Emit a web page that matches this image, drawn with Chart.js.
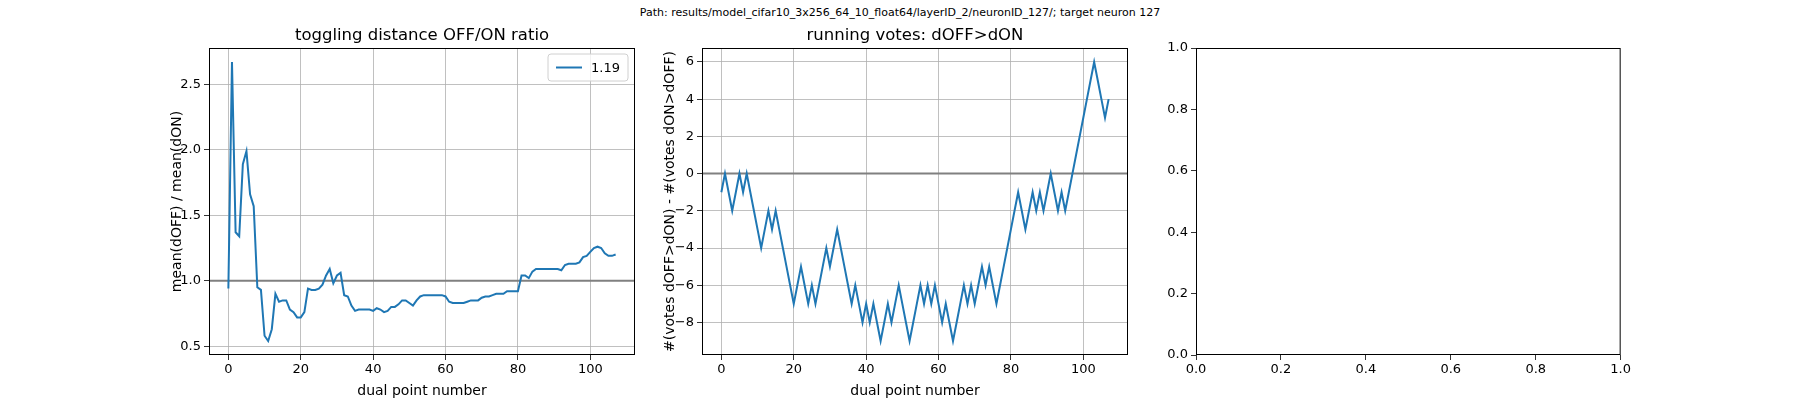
<!DOCTYPE html>
<html>
<head>
<meta charset="utf-8">
<script src="https://cdn.jsdelivr.net/npm/chart.js@4.4.0/dist/chart.umd.min.js"></script>
<style>
  body { margin: 0; background: #fff; width: 1800px; height: 400px; position: relative; overflow: hidden; font-family: "DejaVu Sans", sans-serif; }
  #suptitle { position: absolute; top: 6px; left: 0; width: 1800px; text-align: center; font-size: 11px; color: #000; }
  .box { position: absolute; top: 17px; height: 383px; }
</style>
</head>
<body>
<div id="suptitle">Path: results/model_cifar10_3x256_64_10_float64/layerID_2/neuronID_127/; target neuron 127</div>
<div class="box" style="left:169px;width:476px"><canvas id="ratioChart"></canvas></div>
<div class="box" style="left:662px;width:476px"><canvas id="votesChart"></canvas></div>
<div class="box" style="left:1160px;width:473px"><canvas id="emptyChart"></canvas></div>
<script>
// dual point numbers 0..107
const dualPoints = [];
for (let i = 0; i < 108; i++) dualPoints.push(i);

const ratioValues = [
  0.94, 2.67, 1.37, 1.34, 1.89, 1.99, 1.66, 1.57, 0.95, 0.93,
  0.58, 0.54, 0.63, 0.90, 0.84, 0.85, 0.85, 0.78, 0.76, 0.72,
  0.72, 0.76, 0.94, 0.93, 0.93, 0.94, 0.97, 1.04, 1.09, 0.98,
  1.04, 1.06, 0.89, 0.88, 0.81, 0.77, 0.78, 0.78, 0.78, 0.78,
  0.77, 0.79, 0.78, 0.76, 0.77, 0.80, 0.80, 0.82, 0.85, 0.85,
  0.83, 0.81, 0.85, 0.88, 0.89, 0.89, 0.89, 0.89, 0.89, 0.89,
  0.88, 0.84, 0.83, 0.83, 0.83, 0.83, 0.84, 0.85, 0.85, 0.85,
  0.87, 0.88, 0.88, 0.89, 0.90, 0.90, 0.90, 0.92, 0.92, 0.92,
  0.92, 1.04, 1.04, 1.02, 1.07, 1.09, 1.09, 1.09, 1.09, 1.09,
  1.09, 1.09, 1.08, 1.12, 1.13, 1.13, 1.13, 1.14, 1.18, 1.19,
  1.22, 1.25, 1.26, 1.25, 1.21, 1.19, 1.19, 1.20
];

const voteValues = [
  -1, 0, -1, -2, -1, 0, -1, 0, -1, -2,
  -3, -4, -3, -2, -3, -2, -3, -4, -5, -6,
  -7, -6, -5, -6, -7, -6, -7, -6, -5, -4,
  -5, -4, -3, -4, -5, -6, -7, -6, -7, -8,
  -7, -8, -7, -8, -9, -8, -7, -8, -7, -6,
  -7, -8, -9, -8, -7, -6, -7, -6, -7, -6,
  -7, -8, -7, -8, -9, -8, -7, -6, -7, -6,
  -7, -6, -5, -6, -5, -6, -7, -6, -5, -4,
  -3, -2, -1, -2, -3, -2, -1, -2, -1, -2,
  -1, 0, -1, -2, -1, -2, -1, 0, 1, 2,
  3, 4, 5, 6, 5, 4, 3, 4
];

const ratioLegendLabel = '1.19';
const ratioRefLine = 1;
const votesRefLine = 0;
const xTicks = [0, 20, 40, 60, 80, 100];
const ratioTicks = [0.5, 1.0, 1.5, 2.0, 2.5];
const voteTicks = [-8, -6, -4, -2, 0, 2, 4, 6];
const unitTicks = [0, 0.2, 0.4, 0.6, 0.8, 1.0];

const FONT = 'DejaVu Sans';
const BLUE = '#1f77b4';

function toPoints(values) {
  return values.map((v, i) => ({ x: dualPoints[i], y: v }));
}
function fmtMinus(v, digits) {
  const s = Math.abs(v).toFixed(digits);
  return v < 0 ? '\u2212' + s : s;
}

// frame, title, reference line and legend drawn around the chart area
const framePlugin = {
  id: 'frame',
  beforeDatasetsDraw(chart, args, opts) {
    const a = chart.chartArea, ctx = chart.ctx;
    if (opts.refLine !== undefined) {
      const y = chart.scales.y.getPixelForValue(opts.refLine);
      ctx.save();
      ctx.strokeStyle = '#808080';
      ctx.lineWidth = 2;
      ctx.beginPath();
      ctx.moveTo(a.left, y);
      ctx.lineTo(a.right, y);
      ctx.stroke();
      ctx.restore();
    }
  },
  afterDraw(chart, args, opts) {
    const a = chart.chartArea, ctx = chart.ctx;
    ctx.save();
    ctx.strokeStyle = '#000';
    ctx.lineWidth = 1;
    ctx.strokeRect(a.left + 0.5, a.top + 0.5, a.right - a.left - 1, a.bottom - a.top - 1);
    if (opts.title) {
      ctx.fillStyle = '#000';
      ctx.font = '16.5px ' + FONT;
      ctx.textAlign = 'center';
      ctx.textBaseline = 'alphabetic';
      ctx.fillText(opts.title, (a.left + a.right) / 2, a.top - 8);
    }
    if (opts.legend) {
      const w = 80, h = 27, x = a.right - w - 7, y = a.top + 6;
      ctx.fillStyle = 'rgba(255,255,255,0.8)';
      ctx.strokeStyle = '#d0d0d0';
      ctx.beginPath();
      ctx.roundRect(x, y, w, h, 3);
      ctx.fill();
      ctx.stroke();
      ctx.strokeStyle = BLUE;
      ctx.lineWidth = 2;
      ctx.beginPath();
      ctx.moveTo(x + 8, y + h / 2);
      ctx.lineTo(x + 34, y + h / 2);
      ctx.stroke();
      ctx.fillStyle = '#000';
      ctx.font = '13px ' + FONT;
      ctx.textAlign = 'left';
      ctx.textBaseline = 'middle';
      ctx.fillText(opts.legend, x + 43, y + h / 2 + 1);
    }
    ctx.restore();
  }
};

function fixedTicks(list) {
  return function (scale) { scale.ticks = list.map(v => ({ value: v })); };
}

function makeScales(opts) {
  return {
    x: {
      type: 'linear', min: opts.xmin, max: opts.xmax,
      afterBuildTicks: fixedTicks(opts.xTicks),
      afterFit: s => { s.height = 45; },
      grid: { display: true, drawOnChartArea: opts.grid, color: '#b0b0b0', lineWidth: 0.8, tickLength: 5, tickColor: '#000' },
      border: { display: false },
      ticks: { color: '#000', font: { family: FONT, size: 13 }, padding: 2, maxRotation: 0, callback: opts.xFmt },
      title: { display: !!opts.xTitle, text: opts.xTitle, color: '#000', font: { family: FONT, size: 14 }, padding: { top: 1, bottom: 0 } }
    },
    y: {
      type: 'linear', min: opts.ymin, max: opts.ymax,
      afterBuildTicks: fixedTicks(opts.yTicks),
      afterFit: s => { s.width = opts.yWidth; },
      grid: { display: true, drawOnChartArea: opts.grid, color: '#b0b0b0', lineWidth: 0.8, tickLength: 5, tickColor: '#000' },
      border: { display: false },
      ticks: { color: '#000', font: { family: FONT, size: 13 }, padding: 3, callback: opts.yFmt },
      title: { display: !!opts.yTitle, text: opts.yTitle, color: '#000', font: { family: FONT, size: 14 }, padding: { top: 0, bottom: 2 } }
    }
  };
}

function makeChart(id, cfg) {
  return new Chart(document.getElementById(id), {
    type: 'line',
    data: {
      datasets: cfg.values ? [{
        label: cfg.label || '',
        data: toPoints(cfg.values),
        borderColor: BLUE, borderWidth: 2, pointRadius: 0, tension: 0, fill: false
      }] : []
    },
    options: {
      responsive: true, maintainAspectRatio: false, animation: false,
      layout: { padding: { right: cfg.padRight, left: 0, top: 31, bottom: 0 } },
      plugins: {
        legend: { display: false },
        tooltip: { enabled: false },
        title: { display: false },
        frame: { refLine: cfg.refLine, legend: cfg.legend, title: cfg.title }
      },
      scales: makeScales(cfg.scales)
    },
    plugins: [framePlugin]
  });
}

makeChart('ratioChart', {
  title: 'toggling distance OFF/ON ratio',
  values: ratioValues, label: ratioLegendLabel, legend: ratioLegendLabel,
  refLine: ratioRefLine, padRight: 10,
  scales: {
    xmin: -5.35, xmax: 112.35, xTicks: xTicks, xFmt: v => fmtMinus(v, 0), xTitle: 'dual point number',
    ymin: 0.433, ymax: 2.777, yTicks: ratioTicks, yFmt: v => fmtMinus(v, 1), yTitle: 'mean(dOFF) / mean(dON)',
    yWidth: 40, grid: true
  }
});

makeChart('votesChart', {
  title: 'running votes: dOFF>dON',
  values: voteValues, refLine: votesRefLine, padRight: 10,
  scales: {
    xmin: -5.35, xmax: 112.35, xTicks: xTicks, xFmt: v => fmtMinus(v, 0), xTitle: 'dual point number',
    ymin: -9.75, ymax: 6.75, yTicks: voteTicks, yFmt: v => fmtMinus(v, 0), yTitle: '#(votes dOFF>dON) - #(votes dON>dOFF)',
    yWidth: 40, grid: true
  }
});

makeChart('emptyChart', {
  title: '', values: null, padRight: 12,
  scales: {
    xmin: 0, xmax: 1, xTicks: unitTicks, xFmt: v => v.toFixed(1), xTitle: '',
    ymin: 0, ymax: 1, yTicks: unitTicks, yFmt: v => v.toFixed(1), yTitle: '',
    yWidth: 36, grid: false
  }
});
</script>
</body>
</html>
